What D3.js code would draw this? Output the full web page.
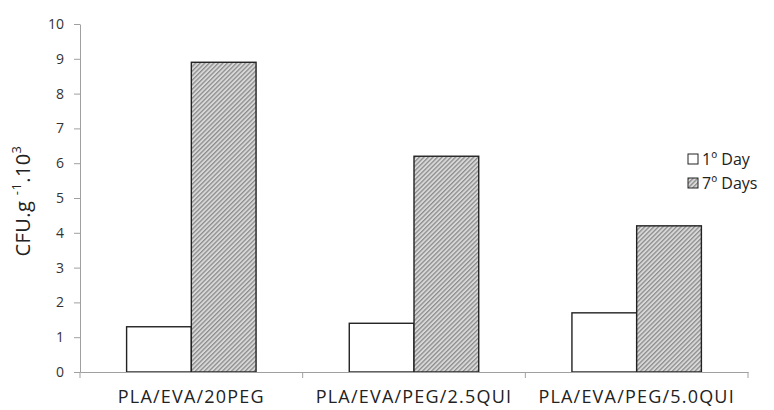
<!DOCTYPE html>
<html>
<head>
<meta charset="utf-8">
<script src="https://cdn.jsdelivr.net/npm/d3@7"></script>
<style>
  body { margin: 0; background: #fff; }
  svg text { font-family: "Open Sans", "DejaVu Sans", sans-serif; }
</style>
</head>
<body>
<svg id="drawing_region"></svg>
<script>
// values
const categories = ["PLA/EVA/20PEG", "PLA/EVA/PEG/2.5QUI", "PLA/EVA/PEG/5.0QUI"];
const seriesNames = ["1º Day", "7º Days"];
const day1 = [1.3, 1.4, 1.7];
const day7 = [8.9, 6.2, 4.2];
const yTicks = [0, 1, 2, 3, 4, 5, 6, 7, 8, 9, 10];

const config = {
    width: 774,
    height: 410,
    margin: {top: 24, right: 26, bottom: 38, left: 80}
};

const svg = d3.select('#drawing_region')
    .attr('width', config.width)
    .attr('height', config.height);

// hatched fill
const defs = svg.append('defs');
const pat = defs.append('pattern')
    .attr('id', 'hatch')
    .attr('patternUnits', 'userSpaceOnUse')
    .attr('width', 3.2)
    .attr('height', 3.2)
    .attr('patternTransform', 'rotate(45)');
pat.append('rect').attr('width', 3.2).attr('height', 3.2).attr('fill', '#d8d8d8');
pat.append('rect').attr('x', 0).attr('width', 1.3).attr('height', 3.2).attr('fill', '#8c8c8c');

const inner_width = config.width - config.margin.left - config.margin.right;
const inner_height = config.height - config.margin.top - config.margin.bottom;

const chart = svg.append('g')
    .attr('transform', `translate(${config.margin.left}, ${config.margin.top})`);

const data = categories.map((c, i) => ({cat: c, values: [day1[i], day7[i]]}));

const xscale = d3.scaleBand()
    .domain(categories)
    .range([0, inner_width])
    .paddingInner(0)
    .paddingOuter(0);

const inner = d3.scaleBand()
    .domain(seriesNames)
    .range([0, xscale.bandwidth()])
    .paddingInner(0)
    .paddingOuter(0.72);

const yscale = d3.scaleLinear()
    .domain([0, 10])
    .range([inner_height, 0]);

// y axis
const yaxis = d3.axisLeft(yscale)
    .tickValues(yTicks)
    .tickSize(6)
    .tickPadding(10)
    .tickSizeOuter(0);

const yg = chart.append('g').call(yaxis);
yg.select('.domain').attr('stroke', '#a0a0a0');
yg.selectAll('.tick line').attr('stroke', '#a0a0a0');
yg.selectAll('.tick text')
    .attr('font-size', '14px')
    .attr('fill', '#333');

// bars
const groups = chart.selectAll('.grp')
    .data(data)
    .enter()
    .append('g')
    .attr('transform', d => `translate(${xscale(d.cat)}, 0)`);

groups.selectAll('rect')
    .data(d => d.values.map((v, j) => ({name: seriesNames[j], v: v, j: j})))
    .enter()
    .append('rect')
    .attr('x', d => inner(d.name))
    .attr('y', d => yscale(d.v))
    .attr('width', inner.bandwidth())
    .attr('height', d => inner_height - yscale(d.v))
    .attr('fill', d => d.j === 0 ? '#fff' : 'url(#hatch)')
    .attr('stroke', '#222')
    .attr('stroke-width', 1.4);

// x axis
const xaxis = d3.axisBottom(xscale)
    .tickSize(0)
    .tickPadding(18);

const xg = chart.append('g')
    .attr('transform', `translate(0, ${inner_height})`)
    .call(xaxis);
xg.select('.domain').attr('stroke', '#a0a0a0');
xg.selectAll('.tick text')
    .attr('font-size', '18px')
    .attr('letter-spacing', '1.2px')
    .attr('fill', '#222');

// category separators
chart.selectAll('.sep')
    .data(d3.range(categories.length + 1))
    .enter()
    .append('line')
    .attr('x1', i => i * xscale.step())
    .attr('x2', i => i * xscale.step())
    .attr('y1', inner_height)
    .attr('y2', inner_height + 6)
    .attr('stroke', '#a0a0a0');

// y label
const ylabel = svg.append('text')
    .attr('transform', `translate(30, 201) rotate(-90)`)
    .attr('text-anchor', 'middle')
    .attr('font-size', '20px')
    .attr('letter-spacing', '0.4px')
    .attr('fill', '#222');
ylabel.append('tspan').text('CFU.g ');
ylabel.append('tspan').attr('baseline-shift', 'super').attr('font-size', '13px').text('-1');
ylabel.append('tspan').text('.10');
ylabel.append('tspan').attr('baseline-shift', 'super').attr('font-size', '13px').text('3');

// legend
const legend = svg.append('g')
    .attr('transform', 'translate(688, 154)');
seriesNames.forEach((n, i) => {
    const row = legend.append('g').attr('transform', `translate(0, ${i * 24})`);
    row.append('rect')
        .attr('width', 10)
        .attr('height', 10)
        .attr('fill', i === 0 ? '#fff' : 'url(#hatch)')
        .attr('stroke', '#222');
    row.append('text')
        .attr('x', 14)
        .attr('y', 11)
        .attr('font-size', '16px')
        .attr('fill', '#222')
        .text(n);
});
</script>
</body>
</html>
